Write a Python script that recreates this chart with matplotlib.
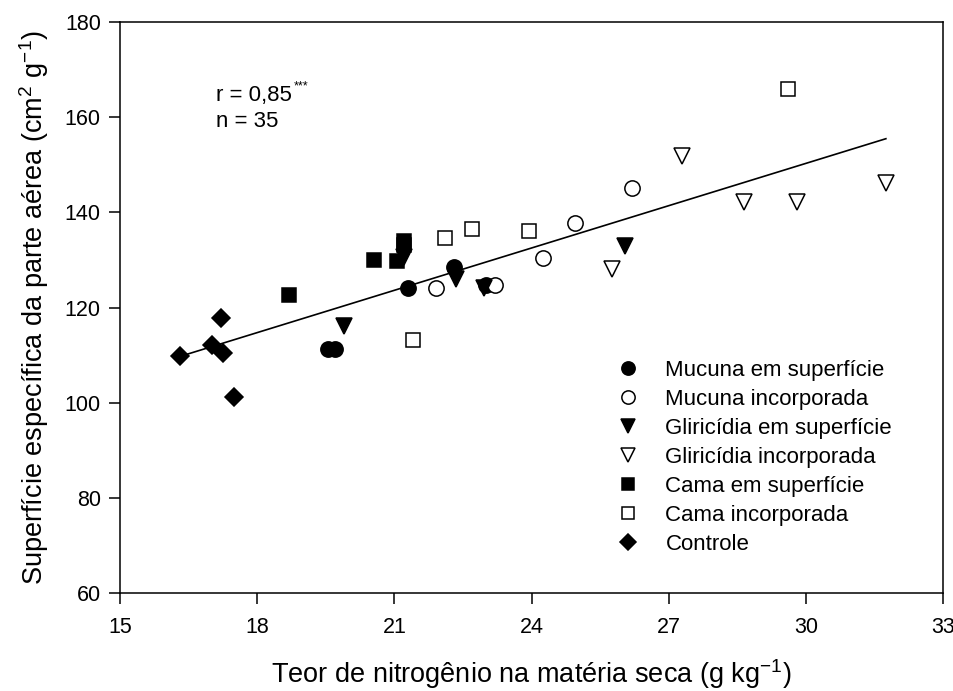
import numpy as np
import matplotlib
matplotlib.use("Agg")
import matplotlib.pyplot as plt

plt.rcParams['font.family'] = ['Liberation Sans', 'DejaVu Sans']
plt.rcParams['mathtext.fontset'] = 'custom'
plt.rcParams['mathtext.rm'] = 'Liberation Sans'

# data (N content, specific leaf area)
muc_sup_x = [19.55, 19.7, 21.3, 22.3, 23.0]
muc_sup_y = [111.2, 111.2, 124.0, 128.5, 124.8]
muc_inc_x = [21.9, 23.2, 24.25, 24.95, 26.2]
muc_inc_y = [124.0, 124.8, 130.4, 137.7, 145.1]
gli_sup_x = [19.9, 21.2, 22.35, 22.95, 26.05]
gli_sup_y = [116.2, 130.6, 126.0, 124.2, 132.9]
gli_inc_x = [25.75, 27.3, 28.65, 29.8, 31.75]
gli_inc_y = [128.0, 151.9, 142.1, 142.1, 146.2]
cama_sup_x = [18.7, 20.55, 21.05, 21.2, 21.2]
cama_sup_y = [122.6, 130.0, 129.7, 134.0, 133.2]
cama_inc_x = [21.4, 22.1, 22.7, 23.95, 29.6]
cama_inc_y = [113.2, 134.7, 136.5, 136.1, 165.9]
ctrl_x = [16.3, 17.0, 17.25, 17.2, 17.5]
ctrl_y = [109.8, 112.2, 110.4, 117.9, 101.1]

labels = ["Mucuna em superfície", "Mucuna incorporada", "Gliricídia em superfície",
          "Gliricídia incorporada", "Cama em superfície", "Cama incorporada", "Controle"]

fig = plt.figure(figsize=(9.54, 6.91), dpi=100)
ax = fig.add_axes([0.126, 0.1418, 0.8625, 0.8263])

series = [
    (muc_sup_x, muc_sup_y, 'o', 'black', 11),
    (muc_inc_x, muc_inc_y, 'o', 'white', 11),
    (gli_sup_x, gli_sup_y, 'v', 'black', 11),
    (gli_inc_x, gli_inc_y, 'v', 'white', 11),
    (cama_sup_x, cama_sup_y, 's', 'black', 9.5),
    (cama_inc_x, cama_inc_y, 's', 'white', 9.5),
    (ctrl_x, ctrl_y, 'D', 'black', 9),
]

# regression over all points
all_x = np.concatenate([s[0] for s in series])
all_y = np.concatenate([s[1] for s in series])
b, a = np.polyfit(all_x, all_y, 1)
xl = np.array([all_x.min(), all_x.max()])
ax.plot(xl, a + b * xl, color='black', lw=1.2, zorder=1)

for (x, y, m, fc, ms), lab in zip(series, labels):
    ax.plot(x, y, linestyle='none', marker=m, markersize=ms, markerfacecolor=fc,
            markeredgecolor='black', markeredgewidth=1.1, label=lab, zorder=3)

ax.set_xlim(15, 33)
ax.set_ylim(60, 180)
ax.set_xticks(np.arange(15, 34, 3))
ax.set_yticks(np.arange(60, 181, 20))
ax.tick_params(direction='out', length=8, width=1.1, labelsize=15.5)
ax.tick_params(axis='x', pad=9)
ax.tick_params(axis='y', pad=6)
for sp in ax.spines.values():
    sp.set_linewidth(1.1)

ax.set_xlabel(r"Teor de nitrogênio na matéria seca (g kg$^{\mathregular{-1}}$)", fontsize=19.5, labelpad=14)
ax.set_ylabel(r"Superfície específica da parte aérea (cm$^{\mathregular{2}}$ g$^{\mathregular{-1}}$)", fontsize=19.5, labelpad=10)

t1 = ax.text(0.117, 0.872, "r = 0,85", transform=ax.transAxes, fontsize=16, va='center')
ax.annotate("***", xy=(1, 1), xycoords=t1, xytext=(1, -1), textcoords='offset points',
            fontsize=9, va='center', ha='left')
ax.text(0.117, 0.825, "n = 35", transform=ax.transAxes, fontsize=16, va='center')

ax.legend(loc='lower left', bbox_to_anchor=(0.5897, 0.051), frameon=False, fontsize=16,
          handletextpad=1.1, labelspacing=0.36, handlelength=1.2, borderaxespad=0.0,
          markerscale=0.87)

fig.savefig("out.png", dpi=100)
